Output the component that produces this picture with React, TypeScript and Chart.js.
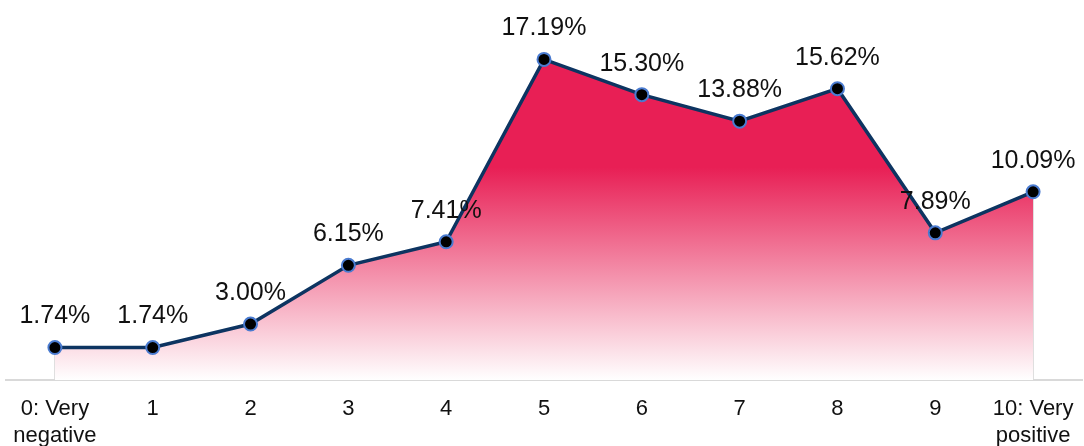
import React, { useEffect, useRef } from "react";
import { Chart, registerables } from "chart.js";

Chart.register(...registerables);

const categories: (string | string[])[] = [
  ["0: Very", "negative"],
  "1",
  "2",
  "3",
  "4",
  "5",
  "6",
  "7",
  "8",
  "9",
  ["10: Very", "positive"],
];
const shares: number[] = [1.74, 1.74, 3.0, 6.15, 7.41, 17.19, 15.3, 13.88, 15.62, 7.89, 10.09];
const valueLabels: string[] = shares.map((v) => v.toFixed(2) + "%");

const FONT = "'Liberation Sans', Arial, sans-serif";

const edgePlugin = {
  id: "edgeLines",
  beforeDatasetsDraw(chart: any) {
    const meta = chart.getDatasetMeta(0);
    const pts = meta.data;
    if (!pts.length) return;
    const ctx = chart.ctx;
    const bottom = chart.chartArea.bottom;
    ctx.save();
    ctx.strokeStyle = "#D9D9D9";
    ctx.lineWidth = 1.5;
    [pts[0], pts[pts.length - 1]].forEach((p: any) => {
      ctx.beginPath();
      ctx.moveTo(p.x, p.y);
      ctx.lineTo(p.x, bottom);
      ctx.stroke();
    });
    ctx.restore();
  },
};

const labelPlugin = {
  id: "valueLabels",
  afterDatasetsDraw(chart: any) {
    const meta = chart.getDatasetMeta(0);
    const ctx = chart.ctx;
    ctx.save();
    ctx.font = `25px ${FONT}`;
    ctx.fillStyle = "#111111";
    ctx.textAlign = "center";
    ctx.textBaseline = "middle";
    meta.data.forEach((p: any, i: number) => {
      ctx.fillText(valueLabels[i], p.x, p.y - 31);
    });
    ctx.restore();
  },
};

export default function App() {
  const ref = useRef<HTMLCanvasElement>(null);
  useEffect(() => {
    if (!ref.current) return;
    const chart = new Chart(ref.current, {
      type: "line",
      data: {
        labels: categories,
        datasets: [
          {
            data: shares,
            fill: "origin",
            borderColor: "#0D3461",
            borderWidth: 3.5,
            tension: 0,
            pointRadius: 6.5,
            pointBorderWidth: 2,
            pointBackgroundColor: "#000000",
            pointBorderColor: "#4A7BD0",
            backgroundColor: (c: any) => {
              const area = c.chart.chartArea;
              if (!area) return "#E81F55";
              const g = c.chart.ctx.createLinearGradient(0, area.top, 0, area.bottom);
              g.addColorStop(0, "#E81F55");
              g.addColorStop(0.43, "#E81F55");
              g.addColorStop(1, "#FFFFFF");
              return g;
            },
          },
        ],
      },
      options: {
        responsive: false,
        animation: false,
        layout: { autoPadding: false, padding: { top: 7, left: 6, right: 2, bottom: 0 } },
        plugins: { legend: { display: false }, tooltip: { enabled: false } },
        scales: {
          x: {
            offset: true,
            grid: { display: false, drawTicks: false },
            border: { display: true, color: "#D9D9D9", width: 2 },
            ticks: {
              font: { family: FONT, size: 22 },
              color: "#111111",
              padding: 16,
              maxRotation: 0,
              autoSkip: false,
            },
            afterFit: (s: any) => {
              s.height = 66;
              s.paddingLeft = 0;
              s.paddingRight = 0;
            },
          },
          y: { display: false, min: 0, max: 20 },
        },
      },
      plugins: [edgePlugin, labelPlugin],
    });
    return () => chart.destroy();
  }, []);
  return (
    <div style={{ position: "fixed", left: 0, top: 0, width: 1084, height: 446, background: "#fff" }}>
      <canvas ref={ref} width={1084} height={446} />
    </div>
  );
}
